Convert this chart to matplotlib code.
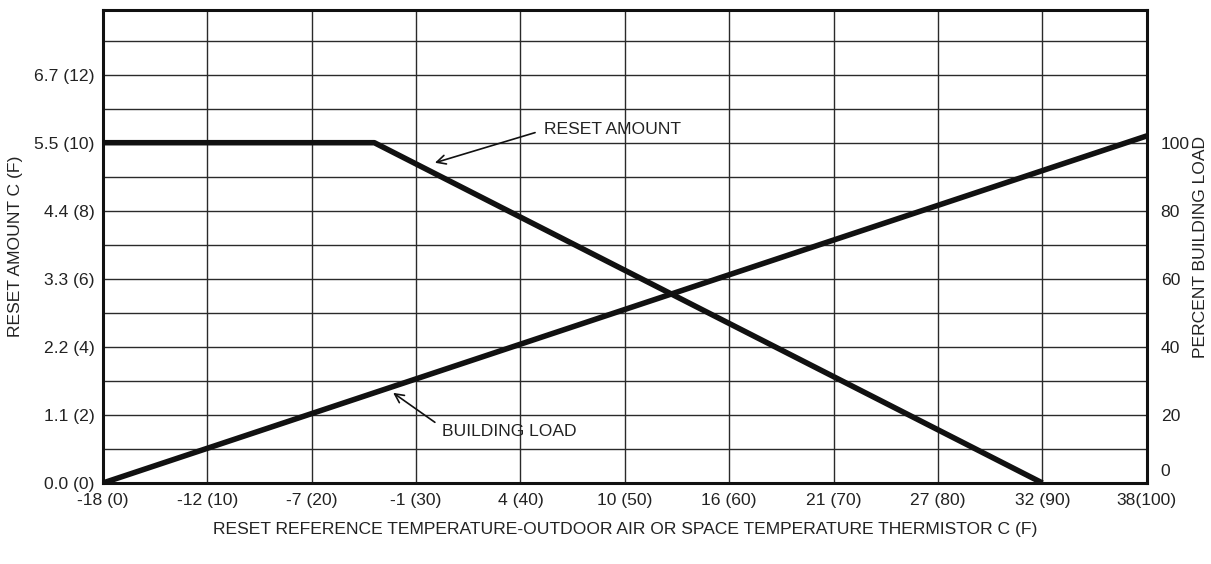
import matplotlib.pyplot as plt
import matplotlib.transforms as mtransforms

plt.rcParams['font.family'] = ['Liberation Sans', 'DejaVu Sans']

# outdoor / space temperature in deg F
temp_f = [0, 10, 20, 30, 40, 50, 60, 70, 80, 90, 100]
temp_labels = ['-18 (0)', '-12 (10)', '-7 (20)', '-1 (30)', '4 (40)', '10 (50)',
               '16 (60)', '21 (70)', '27 (80)', '32 (90)', '38(100)']

# reset amount, deg F
reset_ticks = [0, 2, 4, 6, 8, 10, 12]
reset_labels = ['0.0 (0)', '1.1 (2)', '2.2 (4)', '3.3 (6)', '4.4 (8)', '5.5 (10)', '6.7 (12)']

# percent building load
load_ticks = [0, 20, 40, 60, 80, 100]

reset_x = [0, 26, 90]
reset_y = [10, 10, 0]

load_x = [0, 100]
load_y = [0, 102]

FS = 12.6
TXT = '#222222'

fig = plt.figure(figsize=(12.11, 5.64), dpi=100)
ax = fig.add_axes([0.085, 0.1436, 0.862, 0.8387])

ax.set_xlim(0, 100)
ax.set_ylim(0, 13.9)

# grid: every 10 F across, every 1 F of reset up
for x in temp_f[1:-1]:
    ax.axvline(x, color='#2a2a2a', lw=1.0, zorder=1)
for y in range(1, 14):
    ax.axhline(y, color='#2a2a2a', lw=1.0, zorder=1)

ax.plot(reset_x, reset_y, color='#111111', lw=4, solid_capstyle='butt', zorder=3)
ax.plot(load_x, [v / 10 for v in load_y], color='#111111', lw=4,
        solid_capstyle='butt', zorder=3)

for s in ax.spines.values():
    s.set_linewidth(2.2)
    s.set_color('#111111')

ax.set_xticks(temp_f)
ax.set_xticklabels(temp_labels)
ax.set_yticks(reset_ticks)
ax.set_yticklabels(reset_labels)
ax.tick_params(length=0, labelsize=FS, colors=TXT, pad=6)
ax.tick_params(axis='x', pad=7)

# axis titles
ax.text(0.5, -0.0973,
        'RESET REFERENCE TEMPERATURE-OUTDOOR AIR OR SPACE TEMPERATURE THERMISTOR C (F)',
        transform=ax.transAxes, ha='center', va='center', fontsize=FS, color=TXT)
ax.text(-0.0834, 0.5, 'RESET AMOUNT C (F)', transform=ax.transAxes, rotation=90,
        ha='center', va='center', fontsize=FS, color=TXT)
ax.text(1.0515, 0.5, 'PERCENT BUILDING LOAD', transform=ax.transAxes, rotation=90,
        ha='center', va='center', fontsize=FS, color=TXT)

ax2 = ax.twinx()
ax2.set_ylim(0, 139)
ax2.set_yticks(load_ticks)
ax2.set_yticklabels([str(v) for v in load_ticks])
ax2.tick_params(length=0, labelsize=FS, colors=TXT, pad=10)
for s in ax2.spines.values():
    s.set_visible(False)

# lift the zero label clear of the bottom border
zero_lbl = ax2.get_yticklabels()[0]
zero_lbl.set_transform(zero_lbl.get_transform() +
                       mtransforms.ScaledTranslation(0, 13 / 100, fig.dpi_scale_trans))

arrow = dict(arrowstyle='->', color='#111111', lw=1.2, mutation_scale=16)
ax.annotate('RESET AMOUNT', xy=(31.8, 9.41), xytext=(42.3, 10.38),
            fontsize=FS, color=TXT, va='center', ha='left',
            arrowprops=dict(arrow, shrinkA=5, shrinkB=0, relpos=(0, 0.5)), zorder=4)
ax.annotate('BUILDING LOAD', xy=(27.8, 2.65), xytext=(32.5, 1.5),
            fontsize=FS, color=TXT, va='center', ha='left',
            arrowprops=dict(arrow, shrinkA=4, shrinkB=0, relpos=(0, 0.8)), zorder=4)

fig.savefig('out.png', dpi=100)
